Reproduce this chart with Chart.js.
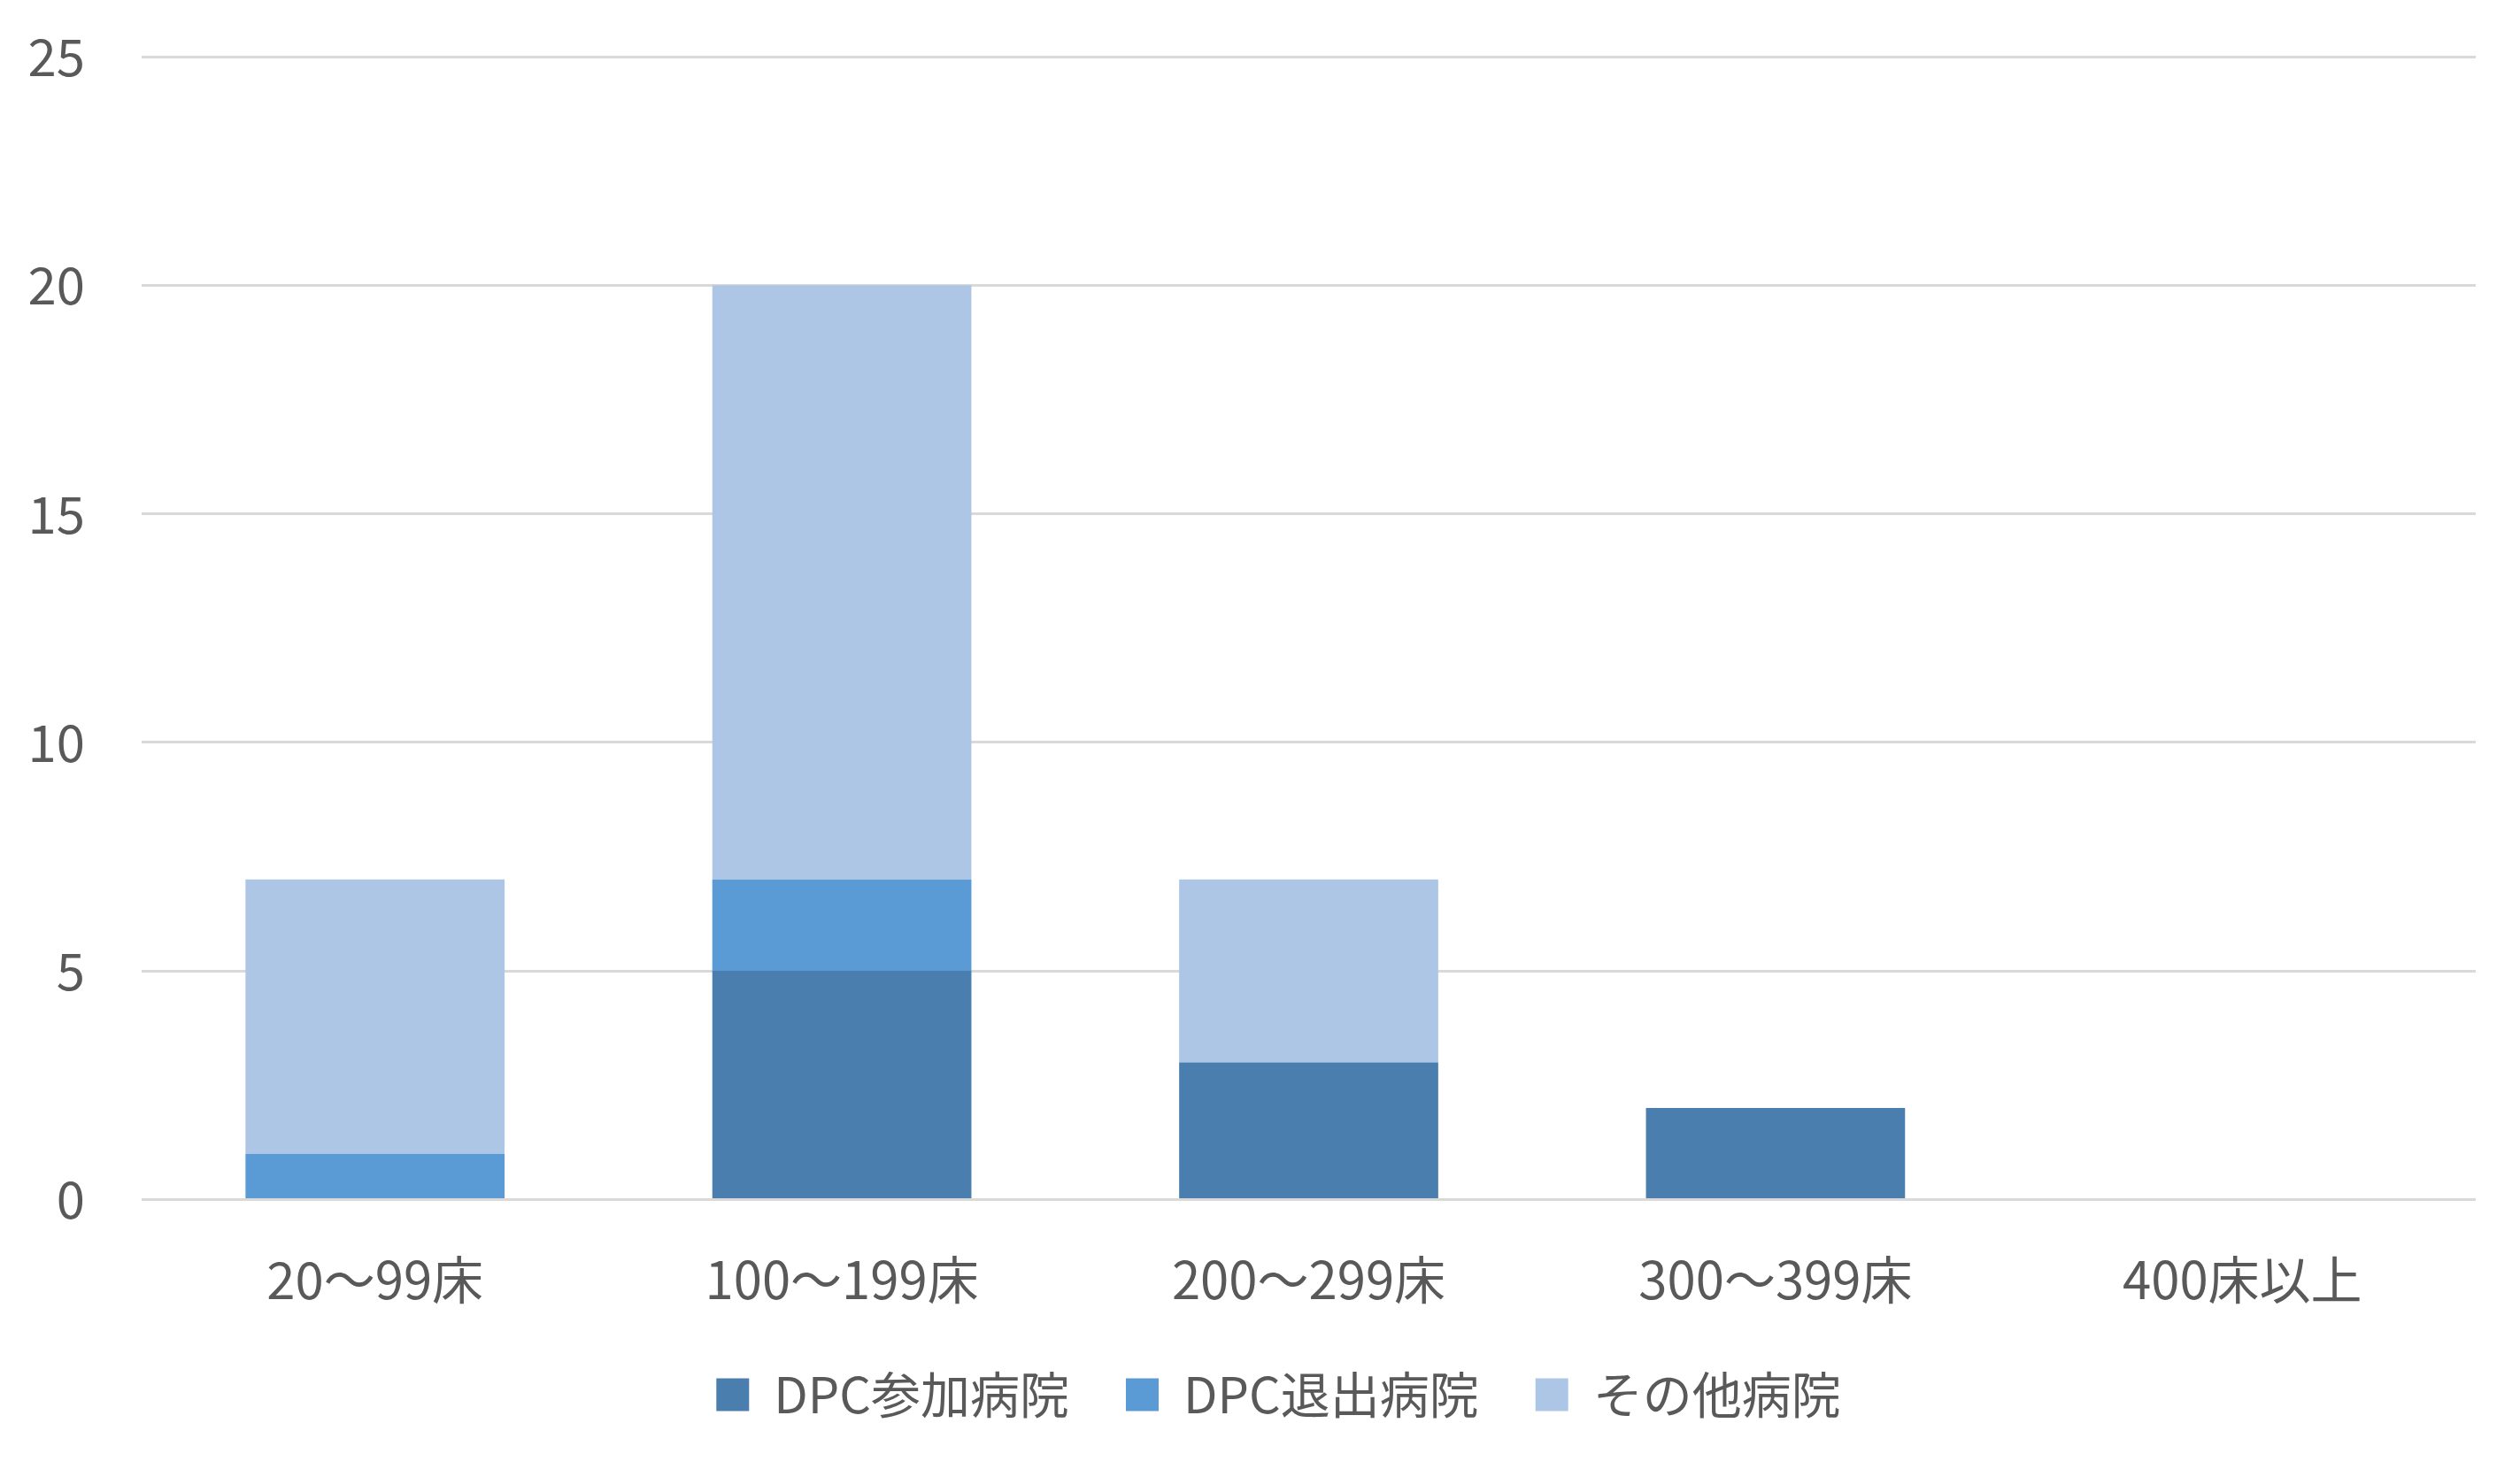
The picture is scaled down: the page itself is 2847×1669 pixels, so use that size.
<!DOCTYPE html>
<html>
<head>
<meta charset="utf-8">
<script src="https://cdn.jsdelivr.net/npm/chart.js@4"></script>
<style>
  html, body { margin: 0; padding: 0; background: #fff; }
  #wrap { width: 2847px; height: 1669px; }
</style>
</head>
<body>
<div id="wrap"><canvas id="chart"></canvas></div>
<script>
const categories = ['20～99床', '100～199床', '200～299床', '300～399床', '400床以上'];
const dpcJoined = [0, 5, 3, 2, 0];
const dpcLeft = [1, 2, 0, 0, 0];
const others = [6, 13, 4, 0, 0];
const seriesNames = ['DPC参加病院', 'DPC退出病院', 'その他病院'];
const yTicks = [0, 5, 10, 15, 20, 25];

const font = "'Noto Sans CJK JP', 'Noto Sans', sans-serif";
const textColor = '#595959';

// legend in the original sits a bit right of the canvas centre
const legendShift = {
  id: 'legendShift',
  afterLayout(chart) {
    if (chart.legend) {
      chart.legend.left += 31;
      chart.legend.right += 31;
      chart.legend.adjustHitBoxes();
    }
  }
};

new Chart(document.getElementById('chart'), {
  type: 'bar',
  data: {
    labels: categories,
    datasets: [
      { label: seriesNames[0], data: dpcJoined, backgroundColor: '#4a7eaf' },
      { label: seriesNames[1], data: dpcLeft, backgroundColor: '#5b9bd5' },
      { label: seriesNames[2], data: others, backgroundColor: '#adc6e5' }
    ]
  },
  options: {
    responsive: true,
    maintainAspectRatio: false,
    animation: false,
    devicePixelRatio: 1,
    layout: { padding: { left: 30, right: 50, top: 64, bottom: 55 } },
    datasets: {
      bar: { barPercentage: 0.555, categoryPercentage: 1 }
    },
    scales: {
      x: {
        stacked: true,
        grid: { display: false },
        border: { display: false },
        ticks: { color: textColor, font: { family: font, size: 58 }, padding: 48 },
        afterFit: axis => {
          // labels stay put; only pull the legend up closer
          axis.paddingLeft = 0;
          axis.paddingRight = 0;
          axis.height -= 45;
        }
      },
      y: {
        stacked: true,
        min: 0,
        max: 25,
        afterBuildTicks: axis => { axis.ticks = yTicks.map(v => ({ value: v })); },
        afterFit: axis => {
          axis.width = 130;
          axis.paddingTop = 0;
          axis.paddingBottom = 0;
        },
        grid: { color: '#d9d9d9', lineWidth: 3, drawTicks: false },
        border: { display: false },
        ticks: { color: textColor, font: { family: font, size: 58 }, padding: 64 }
      }
    },
    plugins: {
      legend: {
        position: 'bottom',
        labels: {
          color: textColor,
          font: { family: font, size: 56 },
          boxWidth: 37,
          boxHeight: 37,
          padding: 64
        }
      },
      tooltip: { enabled: false }
    }
  },
  plugins: [legendShift]
});
</script>
</body>
</html>
